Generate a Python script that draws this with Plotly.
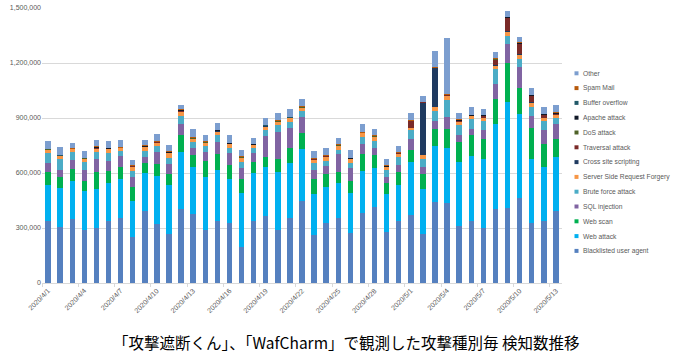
import plotly.graph_objects as go

dates = ["2020/4/%d" % d for d in range(1, 31)] + ["2020/5/%d" % d for d in range(1, 14)]

# values in units of 1,000 detections
blacklisted = [337,304,350,291,300,337,355,251,395,324,270,401,377,
               291,337,328,195,337,368,291,355,450,264,328,355,273,382,415,
               277,337,373,270,441,437,310,337,300,401,410,464,328,337,395]
web_attack = [200,215,209,210,214,209,210,199,206,259,262,313,255,
              286,282,242,297,264,264,314,301,282,224,195,191,219,228,213,
              206,200,288,245,309,297,351,355,377,464,579,459,349,295,292]
web_scan = [68,60,64,54,94,64,67,74,55,67,65,91,65,
            88,82,71,73,60,56,69,81,87,77,74,59,67,95,68,
            60,68,67,80,88,107,109,113,106,137,209,142,170,127,96]
sql_injection = [51,35,47,59,66,58,60,55,32,64,53,64,40,
                 49,69,66,60,49,113,149,110,86,54,40,96,66,51,41,
                 34,38,55,37,45,64,37,33,49,85,104,113,64,73,82]
brute_force = [54,60,44,45,40,42,27,31,31,36,33,42,31,
               33,35,31,36,27,33,37,33,33,37,31,27,31,40,37,
               39,44,49,42,55,93,53,54,51,82,46,46,50,51,36]
ssrf = [18,20,18,20,18,24,18,27,24,18,27,23,19,
        18,24,22,22,19,22,20,21,18,18,24,22,21,23,24,
        18,20,15,23,23,25,20,19,18,18,23,23,26,18,19]
xss = [0.5,0.5,0.5,0.5,1,0.5,0.5,0.5,0.5,0.5,0.5,1,0.5,
       0.5,0.5,0.5,0.5,0.5,0.5,0.5,0.5,0.5,0.5,0.5,0.5,0.5,0.5,0.5,
       0.5,0.5,1,290,213,0.5,1,0.5,0.5,1,1,1,0.5,0.5,1]
traversal = [2,2,1,2,4,1,2,1,3,2,3,5,3,
             3,3,2,3,1,2,3,2,3,3,1,2,3,2,3,
             3,3,36,1,1,2,4,3,14,33,77,60,36,19,4]
dos = [0.5,0.5,0.5,0.5,1,0.5,0.5,0.5,0.5,0.5,1,1,1,
       1,1,0.5,1,0.5,1,0.5,0.5,1,0.5,0.5,0.5,0.5,0.5,0.5,
       0.5,0.5,0.5,0.3,0.3,0.5,1,0.5,0.5,1,1,1,1,0.5,1]
apache = [1,1,1,1,4,1,1,1,2,2,2,4,2,
          2,2,1,2,1,2,2,1,3,2,1,1,2,1,2,
          2,2,2,0.5,0.5,1,4,2,1,2,2,2,2,2,4]
buffer_overflow = [0.5,0.5,0.3,0.5,1,0.3,0.5,0.3,0.5,0.5,1,1,0.5,
                   0.5,0.5,0.5,0.5,0.3,0.5,0.5,0.5,1,0.5,0.3,0.5,0.5,0.5,0.5,
                   0.5,0.5,0.5,0.3,0.3,0.5,1,0.5,0.5,0.5,0.5,0.5,0.5,0.5,1]
spam_mail = [1,1,1,1,2,1,1,1,1,1,1,2,1,
             1,1,1,1,1,1,1,1,1,1,1,1,1,1,1,
             1,1,1,0.5,0.5,1,2,1,1,1,1,1,1,1,2]
other = [41,44,25,35,35,36,37,27,28,40,32,25,43,
         37,37,40,37,32,38,42,41,40,38,38,37,39,45,36,
         33,33,38,33,91,307,33,40,33,36,31,31,37,36,39]

series_names = ["Blacklisted user agent", "Web attack", "Web scan", "SQL injection",
                "Brute force attack", "Server Side Request Forgery", "Cross site scripting",
                "Traversal attack", "DoS attack", "Apache attack", "Buffer overflow",
                "Spam Mail", "Other"]
series_values = [blacklisted, web_attack, web_scan, sql_injection, brute_force, ssrf,
                 xss, traversal, dos, apache, buffer_overflow, spam_mail, other]
series_colors = ["#5580BF", "#00B0F0", "#00B050", "#8064A2", "#4BACC6", "#F79646",
                 "#1F3A60", "#7A2A28", "#4F6228", "#111827", "#215968", "#B7590B", "#7C9ECF"]

y_ticks = [0, 300000, 600000, 900000, 1200000, 1500000]
title_text = "「攻撃遮断くん」、「WafCharm」で観測した攻撃種別毎 検知数推移"

fig = go.Figure()
for name, vals, col in zip(series_names, series_values, series_colors):
    fig.add_trace(go.Bar(x=dates, y=[v * 1000 for v in vals], name=name,
                         marker=dict(color=col, line=dict(width=0)), showlegend=False))

L, R, T, B = 42, 118, 8, 75
W, H = 680, 358
pw, ph = W - L - R, H - T - B

def px_x(x):
    return (x - L) / pw

def px_y(y):
    return (H - B - y) / ph

fig.update_layout(
    width=W, height=H,
    margin=dict(l=L, r=R, t=T, b=B, autoexpand=False),
    barmode="stack", bargap=0.55,
    plot_bgcolor="white", paper_bgcolor="white",
    font=dict(family="Liberation Sans", size=7, color="#595959"),
    xaxis=dict(type="category", tickangle=-45, dtick=3, tick0=0, automargin=False,
               showgrid=False, showline=True, linecolor="#D9D9D9", linewidth=1,
               ticks="outside", ticklen=3, tickcolor="#D9D9D9", tickson="boundaries",
               tickfont=dict(size=7, color="#595959")),
    yaxis=dict(range=[0, 1500000], tickvals=y_ticks, tickformat=",", automargin=False,
               showgrid=True, gridcolor="#D9D9D9", gridwidth=1,
               zeroline=False, showline=False, ticks="",
               tickfont=dict(size=7, color="#595959")),
)

# legend drawn as squares + text (Other on top)
top_y, step = 73.3, 14.8
shapes = []
annotations = []
for i, (name, col) in enumerate(zip(reversed(series_names), reversed(series_colors))):
    yc = top_y + i * step
    shapes.append(dict(type="rect", xref="paper", yref="paper",
                       x0=px_x(574.5), x1=px_x(578.5), y0=px_y(yc + 2), y1=px_y(yc - 2),
                       fillcolor=col, line=dict(width=0)))
    annotations.append(dict(text=name, xref="paper", yref="paper", x=px_x(580.5), y=px_y(yc),
                            xanchor="left", yanchor="middle", showarrow=False,
                            font=dict(family="Liberation Sans", size=6.7, color="#595959")))

annotations.append(dict(text=title_text, xref="paper", yref="paper",
                        x=px_x(346), y=px_y(341.5), xanchor="center", yanchor="middle",
                        showarrow=False,
                        font=dict(family="Noto Sans CJK JP", size=15.5, color="#000000")))
fig.update_layout(shapes=shapes, annotations=annotations)

fig.write_html("out.html", config={"displayModeBar": False},
               post_script="document.body.style.margin='0';document.body.style.padding='0';")
